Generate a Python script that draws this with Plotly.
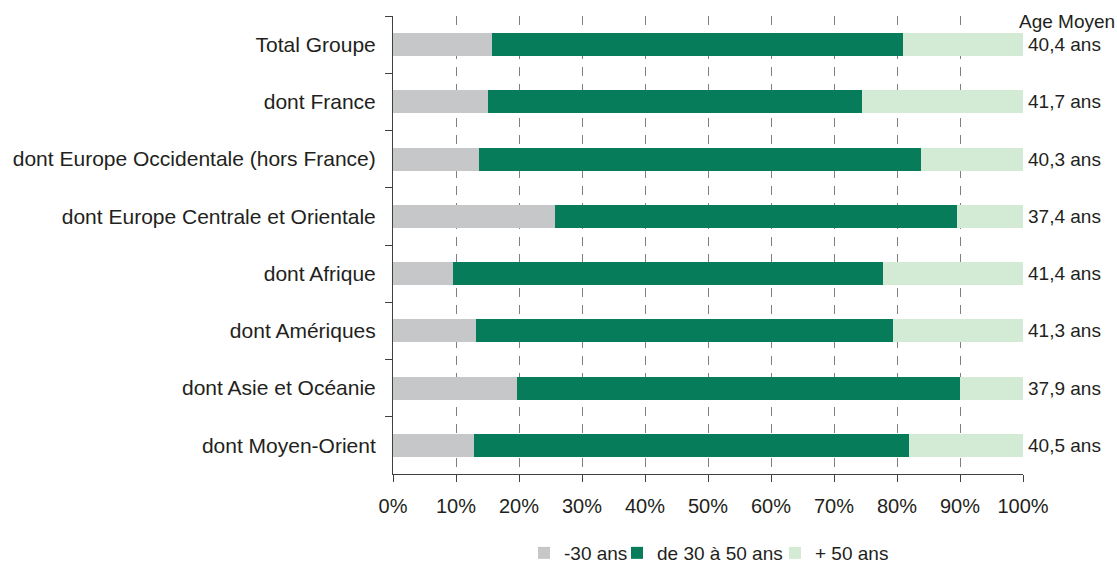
import plotly.graph_objects as go

categories = ["Total Groupe", "dont France", "dont Europe Occidentale (hors France)",
              "dont Europe Centrale et Orientale", "dont Afrique", "dont Amériques",
              "dont Asie et Océanie", "dont Moyen-Orient"]
moins_30 = [15.7, 15.1, 13.6, 25.7, 9.5, 13.2, 19.7, 12.9]
de_30_50 = [65.3, 59.3, 70.2, 63.8, 68.3, 66.2, 70.3, 69.0]
plus_50 = [19.0, 25.6, 16.2, 10.5, 22.2, 20.6, 10.0, 18.1]
age_moyen = ["40,4 ans", "41,7 ans", "40,3 ans", "37,4 ans", "41,4 ans", "41,3 ans", "37,9 ans", "40,5 ans"]
series_names = ["-30 ans", "de 30 à 50 ans", "+ 50 ans"]
colors = ["#c6c7c9", "#077c5a", "#d3ead5"]

FONT = "Liberation Sans, Arial, sans-serif"
TXT = "#231f20"

legend_ids = ["legend", "legend2", "legend3"]
legend_left_px = [524, 617, 775]

fig = go.Figure()
for name, vals, col, lg in zip(series_names, [moins_30, de_30_50, plus_50], colors, legend_ids):
    fig.add_trace(go.Bar(y=categories, x=vals, name=name, orientation="h", legend=lg,
                         marker=dict(color=col, line=dict(width=0))))

for cat, age in zip(categories, age_moyen):
    fig.add_annotation(x=1, xref="paper", y=cat, yref="y", text=age, showarrow=False,
                       xanchor="left", xshift=3, font=dict(size=19, color=TXT, family=FONT))
fig.add_annotation(x=1, xref="paper", y=1, yref="paper", text="Age Moyen", showarrow=False,
                   xanchor="left", yanchor="middle", xshift=-6, yshift=-5,
                   font=dict(size=19, color=TXT, family=FONT))

legend_common = dict(orientation="h", yref="container", y=1 - 553 / 563, yanchor="middle",
                     xref="container", xanchor="left", bgcolor="rgba(0,0,0,0)",
                     font=dict(size=19, color=TXT, family=FONT))

fig.update_layout(
    barmode="stack", bargap=0.6,
    width=1117, height=563,
    margin=dict(l=393, r=94, t=16, b=89, autoexpand=False),
    paper_bgcolor="white", plot_bgcolor="white",
    font=dict(family=FONT, color=TXT, size=20),
    legend=dict(x=legend_left_px[0] / 1117, **legend_common),
    legend2=dict(x=legend_left_px[1] / 1117, **legend_common),
    legend3=dict(x=legend_left_px[2] / 1117, **legend_common),
    showlegend=True,
)
fig.update_xaxes(range=[0, 100], tickvals=list(range(0, 101, 10)),
                 ticktext=[f"{v}%" for v in range(0, 101, 10)],
                 showgrid=True, gridcolor="#7f7f7f", gridwidth=1, griddash="9px,8px",
                 showline=True, linecolor="#404040", linewidth=1,
                 ticks="outside", ticklen=7, tickcolor="#404040",
                 ticklabelstandoff=7, zeroline=False,
                 tickfont=dict(size=20, color=TXT, family=FONT))
fig.update_yaxes(type="category", categoryorder="array", categoryarray=categories,
                 autorange="reversed", tickson="boundaries",
                 showline=True, linecolor="#404040", linewidth=1,
                 ticks="outside", ticklen=7, tickcolor="#404040",
                 ticklabelstandoff=12, showgrid=False,
                 tickfont=dict(size=21, color=TXT, family=FONT))

fig.write_html("out.html")
